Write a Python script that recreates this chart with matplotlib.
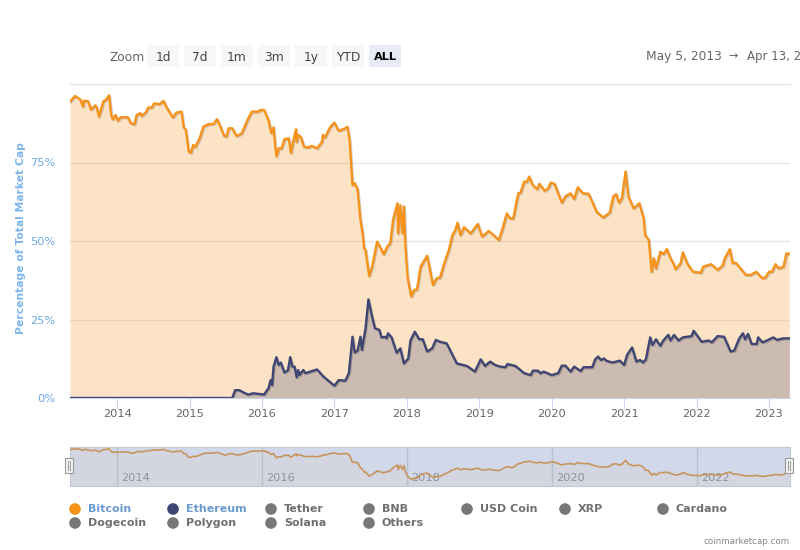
import numpy as np
import matplotlib
matplotlib.use("Agg")
import matplotlib.pyplot as plt
import matplotlib.patheffects as pe
from matplotlib.patches import FancyBboxPatch, Rectangle, Circle

# --------------------------------------------------
# Data (x = years since 2000, y = % of total market cap)
# --------------------------------------------------
btc_years = [13.35, 13.42, 13.49, 13.53, 13.54, 13.60, 13.64, 13.70, 13.72, 13.75, 13.81, 13.85, 13.89, 13.92, 13.94, 13.98,
             14.01, 14.05, 14.15, 14.19, 14.24, 14.27, 14.32, 14.34, 14.40, 14.43, 14.48, 14.51, 14.59, 14.64, 14.69, 14.77,
             14.82, 14.89, 14.92, 14.95, 14.99, 15.02, 15.05, 15.08, 15.14, 15.19, 15.26, 15.33, 15.38, 15.43, 15.48, 15.51,
             15.54, 15.59, 15.65, 15.72, 15.81, 15.86, 15.95, 15.97, 16.03, 16.09, 16.13, 16.16, 16.18, 16.20, 16.23, 16.27,
             16.31, 16.37, 16.40, 16.43, 16.47, 16.48, 16.50, 16.54, 16.58, 16.64, 16.69, 16.76, 16.83, 16.84, 16.87, 16.94,
             17.00, 17.06, 17.15, 17.18, 17.21, 17.25, 17.28, 17.32, 17.36, 17.39, 17.41, 17.43, 17.48, 17.52, 17.59, 17.64,
             17.68, 17.73, 17.77, 17.81, 17.87, 17.88, 17.91, 17.94, 17.96, 17.98, 18.01, 18.06, 18.10, 18.14, 18.19, 18.28,
             18.32, 18.36, 18.41, 18.46, 18.51, 18.58, 18.63, 18.67, 18.70, 18.74, 18.79, 18.88, 18.98, 19.04, 19.13, 19.22,
             19.27, 19.33, 19.38, 19.42, 19.47, 19.51, 19.54, 19.57, 19.62, 19.66, 19.69, 19.74, 19.80, 19.83, 19.90, 19.95,
             19.99, 20.04, 20.09, 20.14, 20.19, 20.26, 20.31, 20.36, 20.43, 20.51, 20.57, 20.62, 20.71, 20.80, 20.85, 20.89,
             20.93, 20.97, 21.02, 21.06, 21.13, 21.21, 21.27, 21.29, 21.34, 21.38, 21.41, 21.44, 21.50, 21.54, 21.59, 21.64,
             21.68, 21.71, 21.78, 21.81, 21.87, 21.95, 22.06, 22.09, 22.20, 22.29, 22.36, 22.39, 22.46, 22.50, 22.54, 22.68,
             22.75, 22.82, 22.91, 22.95, 23.00, 23.04, 23.09, 23.13, 23.20, 23.24, 23.28]
btc_share = [94.4, 96.2, 95.1, 92.8, 94.7, 94.5, 91.9, 93.2, 92.6, 89.6, 94.4, 95.1, 96.4, 90.1, 88.8, 90.1,
             88.3, 89.4, 89.4, 87.5, 87.2, 90.1, 90.7, 89.8, 91.1, 92.5, 92.5, 93.8, 93.6, 94.6, 92.3, 89.4,
             90.9, 91.2, 86.2, 85.4, 78.4, 78.1, 80.6, 80.0, 82.7, 86.4, 87.2, 87.3, 88.8, 86.2, 83.4, 83.4,
             85.9, 85.9, 83.4, 84.3, 89.0, 91.2, 91.2, 91.7, 91.7, 88.5, 84.3, 86.2, 81.1, 77.0, 79.5, 79.5,
             82.4, 82.7, 78.1, 81.6, 85.6, 81.6, 83.8, 83.0, 80.0, 79.8, 80.3, 79.5, 81.6, 83.8, 83.0, 86.2,
             87.7, 85.1, 85.9, 86.4, 82.2, 67.8, 68.4, 66.5, 56.7, 52.4, 47.7, 47.1, 38.9, 41.8, 49.8, 47.7,
             45.8, 48.2, 49.3, 56.7, 62.0, 52.5, 61.4, 52.5, 61.0, 48.7, 38.6, 32.3, 34.4, 34.6, 41.8, 45.3,
             40.8, 36.0, 38.1, 38.4, 42.4, 47.1, 51.9, 53.5, 55.8, 51.9, 54.4, 52.4, 55.4, 51.4, 53.2, 51.4,
             50.3, 54.6, 58.8, 57.3, 57.2, 62.0, 65.2, 65.4, 68.9, 68.9, 70.5, 67.8, 66.5, 68.2, 66.0, 66.8,
             68.6, 68.2, 65.2, 62.2, 64.2, 65.2, 63.4, 67.1, 65.2, 65.0, 62.0, 59.3, 57.5, 59.0, 64.2, 64.9,
             62.2, 63.6, 72.1, 64.2, 60.4, 62.0, 57.2, 51.9, 50.3, 40.2, 44.5, 41.3, 46.6, 45.8, 47.4, 44.5,
             42.9, 41.0, 42.9, 46.4, 42.9, 40.2, 39.9, 41.8, 42.6, 40.8, 42.2, 44.5, 47.4, 42.9, 43.1, 39.2,
             39.2, 40.2, 38.1, 38.4, 40.2, 40.2, 42.6, 41.3, 41.8, 46.0, 46.0]

eth_years = [13.35, 15.59, 15.63, 15.69, 15.75, 15.81, 15.88, 15.95, 16.03, 16.09, 16.12, 16.14, 16.16, 16.20, 16.23, 16.26,
             16.31, 16.36, 16.39, 16.42, 16.45, 16.48, 16.50, 16.52, 16.57, 16.60, 16.76, 16.85, 17.00, 17.06, 17.15, 17.20,
             17.25, 17.28, 17.32, 17.36, 17.38, 17.43, 17.47, 17.52, 17.56, 17.62, 17.65, 17.70, 17.72, 17.74, 17.79, 17.86,
             17.91, 17.96, 18.02, 18.05, 18.11, 18.17, 18.22, 18.28, 18.35, 18.40, 18.46, 18.55, 18.69, 18.83, 18.94, 19.02,
             19.08, 19.15, 19.22, 19.29, 19.36, 19.39, 19.50, 19.62, 19.71, 19.74, 19.81, 19.84, 19.89, 20.00, 20.09, 20.14,
             20.19, 20.26, 20.31, 20.40, 20.44, 20.56, 20.60, 20.64, 20.68, 20.72, 20.76, 20.84, 20.94, 21.00, 21.04, 21.11,
             21.17, 21.22, 21.26, 21.30, 21.36, 21.39, 21.44, 21.50, 21.54, 21.61, 21.64, 21.69, 21.75, 21.81, 21.93, 21.96,
             22.07, 22.17, 22.21, 22.29, 22.38, 22.47, 22.52, 22.59, 22.64, 22.67, 22.71, 22.76, 22.83, 22.85, 22.91, 22.97,
             23.06, 23.11, 23.20, 23.28]
eth_share = [0.0, 0.0, 2.5, 2.5, 1.7, 1.1, 1.5, 1.3, 1.1, 3.1, 5.7, 4.1, 10.0, 13.0, 10.5, 11.3,
             8.1, 8.9, 13.0, 10.0, 10.0, 6.6, 8.9, 7.3, 8.9, 7.9, 9.1, 6.8, 3.9, 5.7, 5.5, 7.9,
             19.5, 14.5, 15.1, 19.5, 15.3, 22.2, 31.4, 25.9, 22.2, 21.7, 19.3, 19.5, 19.0, 20.6, 19.3, 14.4,
             15.8, 11.0, 12.6, 18.3, 21.1, 18.7, 18.7, 14.8, 15.8, 18.5, 17.9, 17.4, 11.0, 10.2, 8.4, 12.3,
             10.2, 11.6, 10.5, 10.0, 9.8, 10.8, 10.2, 7.9, 7.3, 8.7, 8.7, 7.9, 8.4, 7.3, 7.9, 10.3,
             10.3, 8.4, 10.0, 8.6, 9.8, 9.8, 12.3, 13.2, 12.1, 12.6, 11.8, 11.3, 11.9, 10.5, 13.7, 16.1,
             11.6, 12.1, 11.3, 12.3, 19.3, 16.9, 18.7, 16.6, 18.3, 20.1, 18.3, 20.1, 18.3, 19.3, 19.7, 21.4,
             17.9, 18.3, 17.7, 19.7, 19.5, 14.8, 15.1, 19.0, 20.6, 18.7, 20.4, 17.2, 17.2, 19.3, 17.7, 18.3,
             19.3, 18.5, 19.0, 19.0]

main_ticks = [14, 15, 16, 17, 18, 19, 20, 21, 22, 23]
main_tick_labels = ["2014", "2015", "2016", "2017", "2018", "2019", "2020", "2021", "2022", "2023"]
nav_ticks = [14, 16, 18, 20, 22]
nav_tick_labels = ["2014", "2016", "2018", "2020", "2022"]
y_ticks = [0, 25, 50, 75, 100]
y_tick_labels = ["0%", "25%", "50%", "75%", ""]

zoom_labels = ["1d", "7d", "1m", "3m", "1y", "YTD", "ALL"]
legend_row1 = ["Bitcoin", "Ethereum", "Tether", "BNB", "USD Coin", "XRP", "Cardano"]
legend_row2 = ["Dogecoin", "Polygon", "Solana", "Others"]

BTC_COLOR = "#f7931a"
ETH_COLOR = "#3f4674"
W, H = 800, 550


def px_axes(left, top, right, bottom):
    return fig.add_axes([left / W, 1 - bottom / H, (right - left) / W, (bottom - top) / H])


fig = plt.figure(figsize=(8, 5.5), dpi=100)
plt.rcParams["font.family"] = "DejaVu Sans"

# --------------------------------------------------
# Main chart
# --------------------------------------------------
ax = px_axes(70, 84, 790, 398)
ax.set_axisbelow(True)
ax.grid(axis="y", color="#e6e6e6", lw=1, zorder=0)
ax.fill_between(btc_years, btc_share, color=BTC_COLOR, alpha=0.25, lw=0, zorder=1)
ax.fill_between(eth_years, eth_share, color=ETH_COLOR, alpha=0.25, lw=0, zorder=2)
shadow = [pe.SimpleLineShadow(offset=(0.7, -0.7), alpha=0.18), pe.Normal()]
ax.plot(btc_years, btc_share, color=BTC_COLOR, lw=1.7, zorder=5, solid_joinstyle="round", path_effects=shadow)
ax.plot(eth_years, eth_share, color=ETH_COLOR, lw=1.7, zorder=5, solid_joinstyle="round", path_effects=shadow)

ax.set_xlim(13.35, 23.29)
ax.set_ylim(0, 100)
ax.set_xticks(main_ticks)
ax.set_xticklabels(main_tick_labels, color="#666666", fontsize=8.2)
ax.set_yticks(y_ticks)
ax.set_yticklabels(y_tick_labels, color="#6ea9e6", fontsize=8.2)
ax.tick_params(axis="y", length=0, pad=10.8)
ax.tick_params(axis="x", length=7.2, color="#ccd6eb", pad=1)
for name in ["top", "left", "right"]:
    ax.spines[name].set_visible(False)
ax.spines["bottom"].set_color("#ccd6eb")
ax.set_ylabel("Percentage of Total Market Cap", color="#7cb5ec", fontsize=7.75, fontweight="bold")
ax.yaxis.set_label_coords(-0.061, 0.51)
# gridline at 100% sits on the top edge of the axes
ax.axhline(100, color="#e6e6e6", lw=1, clip_on=False)

# --------------------------------------------------
# Navigator
# --------------------------------------------------
nav = px_axes(70, 447, 790, 486)
nav.set_facecolor("#d0d8ea")
nav.fill_between(btc_years, btc_share, color="#d3d6e0", lw=0, zorder=1)
nav.plot(btc_years, btc_share, color="#c8955c", lw=1.2, zorder=4)
nav.set_xlim(13.35, 23.29)
nav.set_ylim(18, 100)
nav.set_yticks([])
nav.set_xticks(nav_ticks)
nav.set_xticklabels([])
nav.tick_params(length=0)
nav.grid(axis="x", color="#b9c0cf", lw=1, zorder=2)
for s in nav.spines.values():
    s.set_color("#c4c8d2")
for t, label in zip(nav_ticks, nav_tick_labels):
    nav.annotate(label, (t, 0), xycoords=("data", "axes fraction"), xytext=(3, 3.5), textcoords="offset points",
                 color="#8d92a0", fontsize=8.2, zorder=3)

# --------------------------------------------------
# Everything else is placed in pixel coordinates
# --------------------------------------------------
over = fig.add_axes([0, 0, 1, 1], zorder=10)
over.set_xlim(0, W)
over.set_ylim(H, 0)
over.axis("off")

# zoom buttons
over.text(110, 56, "Zoom", color="#666666", fontsize=8.8, va="center_baseline")
for i, label in enumerate(zoom_labels):
    bx = 147 + i * 37
    active = label == "ALL"
    over.add_patch(FancyBboxPatch((bx, 45), 32, 22, boxstyle="round,pad=0,rounding_size=2",
                                  fc="#e6ebf5" if active else "#f7f7f7", ec="none"))
    over.text(bx + 16, 56, label, ha="center", va="center_baseline", fontsize=8.2 if active else 8.8,
              color="#000000" if active else "#444444", fontweight="bold" if active else "normal")

# date range, the reference cuts the end date off at the image edge
over.text(646, 55, "May 5, 2013", color="#666666", fontsize=8.8, va="center_baseline")
over.text(733, 55, "→", color="#666666", fontsize=8, ha="center", va="center_baseline")
over.text(747, 55, "Apr 13, 2", color="#666666", fontsize=8.5, va="center_baseline")

# navigator handles
for hx in [69, 789]:
    over.add_patch(Rectangle((hx - 4, 458), 8, 15, fc="#f2f2f2", ec="#999999", lw=0.8))
    over.plot([hx - 1, hx - 1], [461, 470], color="#999999", lw=0.7)
    over.plot([hx + 1, hx + 1], [461, 470], color="#999999", lw=0.7)

# legend
dot_colors = {"Bitcoin": BTC_COLOR, "Ethereum": ETH_COLOR}
row1_x = [75, 173, 271, 369, 467, 565, 663]
for x, label in zip(row1_x, legend_row1):
    over.add_patch(Circle((x, 509), 5.8, fc=dot_colors.get(label, "#777777"), ec="none"))
    over.text(x + 13, 508.5, label, fontsize=8, fontweight="bold", va="center_baseline",
              color="#6c9bd2" if label in dot_colors else "#707070")
for x, label in zip(row1_x, legend_row2):
    over.add_patch(Circle((x, 523), 5.8, fc="#777777", ec="none"))
    over.text(x + 13, 522.5, label, fontsize=8, fontweight="bold", va="center_baseline", color="#707070")

over.text(790, 541, "coinmarketcap.com", color="#888888", fontsize=6.3, ha="right", va="center")

fig.savefig("out.png", dpi=100)
